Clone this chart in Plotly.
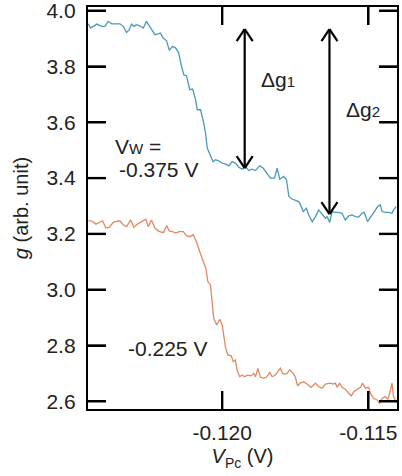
import plotly.graph_objects as go

# ---- data ----
blue_x = [-0.12458, -0.12450, -0.12441, -0.12429, -0.12412, -0.12401, -0.12390, -0.12378, -0.12361, -0.12350,
          -0.12338, -0.12327, -0.12318, -0.12310, -0.12302, -0.12293, -0.12282, -0.12270, -0.12259, -0.12249,
          -0.12242, -0.12230, -0.12219, -0.12211, -0.12202, -0.12190, -0.12181, -0.12170, -0.12159, -0.12149,
          -0.12139, -0.12131, -0.12122, -0.12111, -0.12101, -0.12091, -0.12085, -0.12074, -0.12063, -0.12057,
          -0.12051, -0.12040, -0.12031, -0.12023, -0.12012, -0.12000, -0.11989, -0.11977, -0.11966, -0.11955,
          -0.11943, -0.11932, -0.11920, -0.11909, -0.11898, -0.11886, -0.11872, -0.11860, -0.11846, -0.11835,
          -0.11821, -0.11812, -0.11803, -0.11790, -0.11780, -0.11772, -0.11761, -0.11750, -0.11738, -0.11732,
          -0.11723, -0.11712, -0.11704, -0.11692, -0.11681, -0.11670, -0.11658, -0.11647, -0.11641, -0.11632,
          -0.11624, -0.11613, -0.11602, -0.11590, -0.11579, -0.11567, -0.11556, -0.11545, -0.11533, -0.11522,
          -0.11514, -0.11503, -0.11491, -0.11480, -0.11468, -0.11459, -0.11453, -0.11442, -0.11431, -0.11419,
          -0.11414, -0.11405]
blue_g = [3.953, 3.938, 3.944, 3.952, 3.944, 3.944, 3.962, 3.953, 3.953, 3.953,
          3.944, 3.922, 3.932, 3.952, 3.944, 3.950, 3.946, 3.938, 3.962, 3.946,
          3.938, 3.914, 3.917, 3.920, 3.902, 3.892, 3.858, 3.872, 3.866, 3.850,
          3.800, 3.770, 3.767, 3.717, 3.719, 3.681, 3.645, 3.645, 3.597, 3.561,
          3.508, 3.483, 3.459, 3.466, 3.462, 3.454, 3.451, 3.444, 3.459, 3.454,
          3.439, 3.432, 3.441, 3.427, 3.432, 3.427, 3.444, 3.436, 3.418, 3.400,
          3.400, 3.436, 3.396, 3.406, 3.394, 3.334, 3.325, 3.322, 3.316, 3.304,
          3.280, 3.292, 3.268, 3.244, 3.262, 3.286, 3.268, 3.256, 3.262, 3.241,
          3.280, 3.277, 3.277, 3.274, 3.250, 3.265, 3.268, 3.262, 3.260, 3.274,
          3.277, 3.244, 3.262, 3.280, 3.298, 3.304, 3.280, 3.277, 3.277, 3.274,
          3.286, 3.298]

orange_x = [-0.12458, -0.12447, -0.12432, -0.12420, -0.12409, -0.12398, -0.12386, -0.12372, -0.12361, -0.12350,
            -0.12338, -0.12327, -0.12313, -0.12302, -0.12290, -0.12276, -0.12261, -0.12253, -0.12242, -0.12230,
            -0.12219, -0.12207, -0.12200, -0.12190, -0.12181, -0.12170, -0.12159, -0.12147, -0.12133, -0.12122,
            -0.12111, -0.12099, -0.12088, -0.12077, -0.12065, -0.12056, -0.12049, -0.12040, -0.12034, -0.12029,
            -0.12019, -0.12008, -0.12000, -0.11995, -0.11989, -0.11981, -0.11969, -0.11962, -0.11955, -0.11949,
            -0.11940, -0.11932, -0.11924, -0.11913, -0.11901, -0.11892, -0.11886, -0.11878, -0.11869, -0.11858,
            -0.11849, -0.11837, -0.11829, -0.11818, -0.11810, -0.11801, -0.11792, -0.11780, -0.11769, -0.11757,
            -0.11750, -0.11742, -0.11732, -0.11721, -0.11710, -0.11696, -0.11681, -0.11670, -0.11658, -0.11647,
            -0.11632, -0.11621, -0.11613, -0.11607, -0.11598, -0.11590, -0.11579, -0.11567, -0.11559, -0.11550,
            -0.11539, -0.11527, -0.11520, -0.11510, -0.11499, -0.11493, -0.11482, -0.11470, -0.11462, -0.11453,
            -0.11442, -0.11434, -0.11427, -0.11419, -0.11414, -0.11404]
orange_g = [3.247, 3.247, 3.235, 3.242, 3.247, 3.221, 3.223, 3.242, 3.244, 3.247,
            3.232, 3.226, 3.250, 3.223, 3.235, 3.244, 3.253, 3.226, 3.250, 3.221,
            3.211, 3.206, 3.206, 3.230, 3.211, 3.208, 3.203, 3.208, 3.208, 3.194,
            3.190, 3.197, 3.172, 3.137, 3.101, 3.077, 3.029, 3.017, 2.952, 2.898,
            2.874, 2.894, 2.874, 2.832, 2.796, 2.766, 2.763, 2.742, 2.748, 2.712,
            2.688, 2.694, 2.688, 2.694, 2.691, 2.700, 2.688, 2.718, 2.686, 2.682,
            2.686, 2.703, 2.688, 2.694, 2.706, 2.718, 2.698, 2.698, 2.712, 2.700,
            2.688, 2.655, 2.666, 2.670, 2.662, 2.650, 2.665, 2.652, 2.647, 2.662,
            2.665, 2.662, 2.665, 2.650, 2.665, 2.650, 2.643, 2.629, 2.619, 2.634,
            2.643, 2.650, 2.665, 2.647, 2.650, 2.629, 2.611, 2.605, 2.593, 2.611,
            2.617, 2.607, 2.629, 2.665, 2.617, 2.595]

x_range = [-0.12459, -0.11402]
y_range = [2.5724, 4.0133]
x_tickvals = [-0.120, -0.115]
x_ticktext = ["-0.120", "-0.115"]
y_tickvals = [2.6, 2.8, 3.0, 3.2, 3.4, 3.6, 3.8, 4.0]
y_ticktext = ["2.6", "2.8", "3.0", "3.2", "3.4", "3.6", "3.8", "4.0"]

# double arrows (delta g1, delta g2)
arrow_x = [-0.11923, -0.11633]
arrow_top = [3.934, 3.934]
arrow_bottom = [3.436, 3.271]

FONT = "Liberation Sans, Arial, sans-serif"
TXT = "#222222"
BLUE = "#4b9ab8"
ORANGE = "#e08a63"
TICKLEN = 18
LW = 2.4

fig = go.Figure()
fig.add_trace(go.Scatter(x=blue_x, y=blue_g, mode="lines",
                         line=dict(color=BLUE, width=1.3), showlegend=False))
fig.add_trace(go.Scatter(x=orange_x, y=orange_g, mode="lines",
                         line=dict(color=ORANGE, width=1.3), showlegend=False))

shapes = []
# inside tick marks on all four sides, anchored on the axes' ranges (pixel length)
for tv in y_tickvals:
    for anc, sgn in ((x_range[0], 1), (x_range[1], -1)):
        shapes.append(dict(type="line", xref="x", yref="y", xsizemode="pixel",
                           xanchor=anc, x0=0, x1=sgn * TICKLEN, y0=tv, y1=tv,
                           line=dict(color="black", width=LW)))
for tv in x_tickvals:
    for anc, sgn in ((y_range[0], 1), (y_range[1], -1)):
        shapes.append(dict(type="line", xref="x", yref="y", ysizemode="pixel",
                           yanchor=anc, y0=0, y1=sgn * TICKLEN, x0=tv, x1=tv,
                           line=dict(color="black", width=LW)))

for ax, yt, yb in zip(arrow_x, arrow_top, arrow_bottom):
    shapes.append(dict(type="line", xref="x", yref="y", x0=ax, x1=ax, y0=yt, y1=yb,
                       line=dict(color="black", width=2.2)))
    # chevron heads (pixel sized, anchored at data points)
    for yanc, sgn in ((yt, -1), (yb, 1)):
        for dx in (-8, 8):
            shapes.append(dict(type="line", xref="x", yref="y",
                               xsizemode="pixel", ysizemode="pixel",
                               xanchor=ax, yanchor=yanc,
                               x0=0, y0=0, x1=dx, y1=sgn * 12,
                               line=dict(color="black", width=2.2)))

annotations = [
    dict(x=-0.12375, y=3.513, text="V<span style='font-size:15px'>W</span> =",
         xanchor="left", yanchor="middle", showarrow=False),
    dict(x=-0.12360, y=3.4315, text="-0.375 V", xanchor="left", yanchor="middle", showarrow=False),
    dict(x=-0.11873, y=3.754, text="Δg<span style='font-size:15px'>1</span>",
         xanchor="left", yanchor="middle", showarrow=False),
    dict(x=-0.11585, y=3.645, text="Δg<span style='font-size:15px'>2</span>",
         xanchor="left", yanchor="middle", showarrow=False),
    dict(x=-0.12328, y=2.791, text="-0.225 V", xanchor="left", yanchor="middle", showarrow=False),
]
for a in annotations:
    a["xref"] = "x"
    a["yref"] = "y"
    a["font"] = dict(family=FONT, size=21, color=TXT)

axis_common = dict(showline=True, linecolor="black", linewidth=LW, mirror="allticks",
                   ticks="inside", ticklen=TICKLEN, tickwidth=LW, tickcolor="black",
                   showgrid=False, zeroline=False, automargin=False,
                   ticklabeloverflow="allow", layer="above traces",
                   tickfont=dict(family=FONT, size=21, color=TXT))

fig.update_layout(
    template="none",
    width=402, height=476,
    margin=dict(l=88, r=5, t=7, b=67),
    paper_bgcolor="white", plot_bgcolor="white",
    xaxis=dict(range=x_range, tickmode="array",
               tickvals=x_tickvals, ticktext=x_ticktext, ticklabelstandoff=4,
               title=dict(text="<i>V</i><sub>Pc</sub> (V)", standoff=6,
                          font=dict(family=FONT, size=20, color=TXT)),
               **axis_common),
    yaxis=dict(range=y_range, tickmode="array",
               tickvals=y_tickvals, ticktext=y_ticktext, ticklabelstandoff=6,
               title=dict(text="<i>g</i> (arb. unit)", standoff=12,
                          font=dict(family=FONT, size=20, color=TXT)),
               **axis_common),
    shapes=shapes,
    annotations=annotations,
)

fig.write_html("out.html", config={"displayModeBar": False},
               post_script="document.body.style.margin='0';document.body.style.padding='0';")
